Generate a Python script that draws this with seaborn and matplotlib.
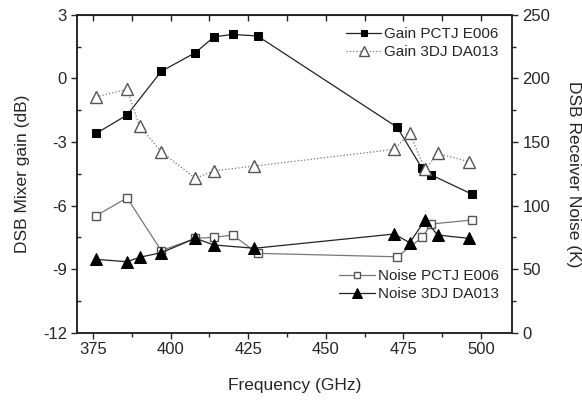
import matplotlib
matplotlib.use("Agg")
import matplotlib.pyplot as plt
import seaborn as sns
import numpy as np
from matplotlib.ticker import MultipleLocator

# --- data ---
freq_pctj = [376, 386, 397, 408, 414, 420, 428, 473, 481, 484, 497]
gain_pctj = [-2.6, -1.73, 0.33, 1.21, 1.96, 2.07, 2.0, -2.31, -4.25, -4.56, -5.46]
noise_pctj = [92, 106, 64.5, 74.2, 75, 76.8, 62.4, 59.7, 75, 85.5, 88.6]

freq_3dj = [376, 386, 390, 397, 408, 414, 427, 472, 477, 482, 486, 496]
gain_3dj = [-0.87, -0.52, -2.25, -3.46, -4.72, -4.36, -4.14, -3.35, -2.6, -4.3, -3.54, -3.93]
noise_3dj = [57.7, 55.8, 59.3, 62.9, 74.2, 69, 66.4, 77.6, 70.8, 88.6, 76.8, 74.2]

xticks = [375, 400, 425, 450, 475, 500]
yticks_left = [-12, -9, -6, -3, 0, 3]
yticks_right = [0, 50, 100, 150, 200, 250]

sns.set_style("ticks")
plt.rcParams['font.family'] = ['Liberation Sans', 'DejaVu Sans']
plt.rcParams['axes.unicode_minus'] = False

fig = plt.figure(figsize=(5.82, 4.03), dpi=100)
ax = fig.add_axes([0.133, 0.1744, 0.747, 0.789])
ax2 = ax.twinx()

lw = 0.9
sns.lineplot(x=freq_pctj, y=gain_pctj, ax=ax, color='#222222', linewidth=lw,
             marker='s', markersize=6.2, markerfacecolor='black', markeredgecolor='black',
             label='Gain PCTJ E006')
sns.lineplot(x=freq_3dj, y=gain_3dj, ax=ax, color='#777777', linewidth=lw, linestyle=':',
             marker='^', markersize=8.2, markerfacecolor='white', markeredgecolor='#555555',
             markeredgewidth=1.0, label='Gain 3DJ DA013')
sns.lineplot(x=freq_pctj, y=noise_pctj, ax=ax2, color='#777777', linewidth=lw,
             marker='s', markersize=6.2, markerfacecolor='white', markeredgecolor='#555555',
             markeredgewidth=1.0, label='Noise PCTJ E006')
sns.lineplot(x=freq_3dj, y=noise_3dj, ax=ax2, color='#222222', linewidth=lw,
             marker='^', markersize=8.2, markerfacecolor='black', markeredgecolor='black',
             label='Noise 3DJ DA013')

ax.set_xlim(370, 510)
ax.set_ylim(-12, 3)
ax2.set_ylim(0, 250)
ax.set_xticks(xticks)
ax.set_yticks(yticks_left)
ax2.set_yticks(yticks_right)
ax.xaxis.set_minor_locator(MultipleLocator(12.5))
ax.yaxis.set_minor_locator(MultipleLocator(1.5))
ax2.yaxis.set_minor_locator(MultipleLocator(25))

for a in (ax, ax2):
    for s in a.spines.values():
        s.set_visible(True)
        s.set_linewidth(1.1)
        s.set_color('#222222')

ax.tick_params(axis='x', which='major', direction='out', length=4, width=1, labelsize=12, pad=3,
               top=False)
ax.tick_params(axis='x', which='minor', direction='out', length=3, width=1, top=False)
ax.tick_params(axis='y', which='major', direction='out', length=4, width=1, labelsize=12)
ax.tick_params(axis='y', which='minor', direction='in', length=3, width=1)
ax2.tick_params(axis='y', which='major', direction='out', length=4, width=1, labelsize=12)
ax2.tick_params(axis='y', which='minor', direction='out', length=3, width=1)

top = ax.secondary_xaxis('top')
top.set_xticks(xticks)
top.xaxis.set_minor_locator(MultipleLocator(12.5))
top.tick_params(which='both', direction='in', length=4, width=1, labeltop=False)

ax.set_xlabel('Frequency (GHz)', fontsize=12.5, labelpad=15)
ax.set_ylabel('DSB Mixer gain (dB)', fontsize=12.5, labelpad=9)
ax2.set_ylabel('DSB Receiver Noise (K)', fontsize=12.5, rotation=270, labelpad=22)

leg1 = ax.legend(loc='upper right', bbox_to_anchor=(0.99, 0.99), frameon=False,
                 fontsize=11, handlelength=2.3, handletextpad=0.2, labelspacing=0.25,
                 borderaxespad=0.2, markerscale=0.8)
leg2 = ax2.legend(loc='lower right', bbox_to_anchor=(0.99, 0.07), frameon=False,
                  fontsize=11, handlelength=2.3, handletextpad=0.2, labelspacing=0.25,
                  borderaxespad=0.2, markerscale=0.8)

ax.patch.set_visible(False)
fig.savefig('out.png', dpi=100)
